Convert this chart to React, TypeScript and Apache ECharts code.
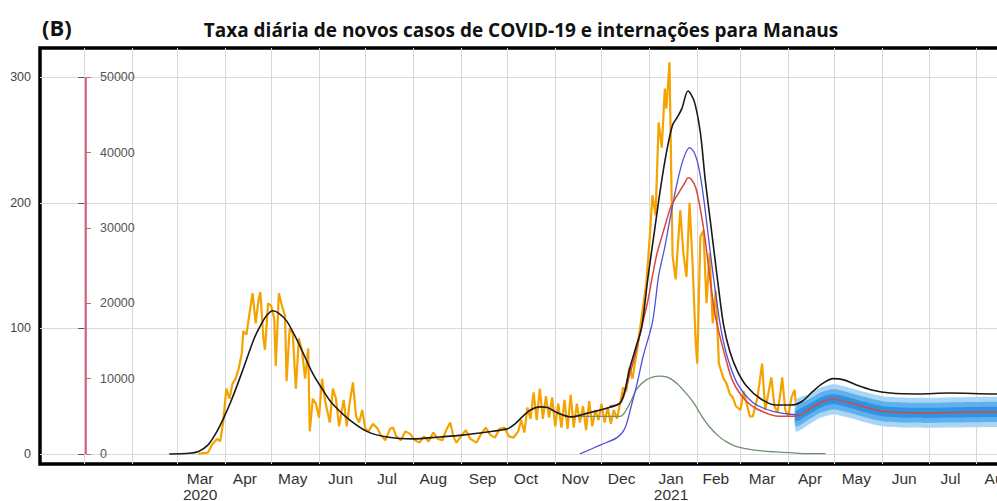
import React, { useEffect, useRef } from "react";
import * as echarts from "echarts";

// x values are days since 2020-01-01
const titleText = "Taxa diária de novos casos de COVID-19 e internações para Manaus";
const panelLabel = "(B)";

const monthStartDays = [0, 31, 60, 91, 121, 152, 182, 213, 244, 274, 305, 335, 366, 397, 425, 456, 486, 517, 547, 578, 609];
const monthLabelDays = [75, 104, 135, 166, 196, 226, 258, 286, 318, 348, 380, 409, 439, 470, 500, 531, 561, 592];
const monthLabels = ["Mar\n2020", "Apr", "May", "Jun", "Jul", "Aug", "Sep", "Oct", "Nov", "Dec", "Jan\n2021", "Feb", "Mar", "Apr", "May", "Jun", "Jul", "Aug"];
const leftTicks = [0, 100, 200, 300];
const rightTicks = [0, 10000, 20000, 30000, 40000, 50000];
const secondAxisLine = [[1, 0], [1, 50000]];

const dailyCases = [
  [74, 0], [80, 1], [83, 8], [86, 12], [88, 10], [90, 26], [92, 52], [94, 44], [96, 56], [98, 60], [100, 68], [102, 80], [103, 98], [105, 95], [107, 112], [109, 128], [111, 104], [113, 124], [114, 129], [116, 92], [117, 83], [119, 120], [121, 118], [123, 108], [124, 70], [126, 128], [128, 118], [130, 110], [131, 58], [133, 100], [135, 96], [137, 52], [139, 92], [141, 82], [143, 60], [145, 84], [146, 18], [148, 44], [150, 40], [152, 29], [154, 60], [156, 42], [159, 25], [161, 52], [163, 44], [165, 22], [168, 43], [170, 22], [172, 42], [174, 57], [176, 30], [178, 25], [180, 35], [182, 20], [184, 18], [187, 24], [190, 20], [192, 15], [195, 11], [198, 20], [200, 21], [202, 14], [205, 11], [208, 18], [211, 16], [214, 11], [217, 9], [220, 14], [223, 10], [226, 17], [229, 12], [232, 11], [234, 18], [237, 25], [239, 14], [241, 9], [244, 14], [247, 19], [250, 12], [254, 9], [257, 16], [260, 21], [263, 15], [266, 13], [269, 20], [272, 21], [275, 14], [278, 13], [281, 18], [283, 27], [285, 17], [287, 37], [289, 28], [291, 49], [293, 27], [295, 52], [297, 28], [299, 46], [301, 29], [303, 45], [305, 22], [307, 40], [309, 21], [311, 43], [313, 20], [315, 47], [317, 21], [319, 40], [321, 25], [323, 38], [325, 19], [327, 42], [329, 22], [331, 35], [333, 27], [335, 40], [337, 25], [339, 37], [341, 24], [343, 35], [345, 28], [347, 40], [349, 53], [351, 50], [353, 69], [355, 60], [358, 83], [361, 109], [364, 136], [366, 169], [368, 206], [370, 190], [372, 264], [374, 244], [376, 291], [377, 275], [379, 312], [381, 158], [383, 139], [386, 194], [388, 160], [390, 141], [392, 200], [394, 150], [396, 88], [397, 72], [399, 173], [401, 178], [403, 120], [405, 160], [407, 104], [409, 130], [411, 72], [414, 60], [416, 56], [418, 48], [420, 45], [422, 38], [425, 35], [427, 50], [429, 40], [431, 30], [433, 30], [436, 45], [439, 72], [441, 35], [443, 48], [445, 61], [447, 38], [449, 33], [451, 50], [452, 61], [454, 35], [456, 30], [458, 45], [460, 51], [462, 27], [463, 40]
];

const blackModel = [
  [55, 0], [68, 0.5], [74, 2], [80, 7], [85, 16], [90, 28], [95, 42], [100, 58], [105, 75], [110, 92], [114, 102], [118, 110], [122, 114], [126, 112], [131, 106], [136, 95], [140, 85], [148, 64], [155, 50], [160, 41], [170, 29], [183, 18], [196, 13.5], [213, 12], [230, 13.5], [245, 15], [261, 17.5], [274, 20], [279, 24], [284, 30], [289, 35], [295, 37.5], [300, 37], [306, 33], [315, 29.5], [326, 32.5], [340, 37], [347, 40.5], [350, 50], [353, 67], [357, 84], [361, 101], [365, 140], [369, 175], [373, 210], [377, 240], [381, 262], [384, 268], [387, 275], [391, 289], [395, 281], [399, 256], [402, 220], [405, 190], [408, 160], [411, 130], [414, 103], [418, 82], [423, 66], [429, 54], [438, 44], [448, 39], [458, 39], [465, 42], [472, 50], [478, 56], [485, 60], [492, 59], [500, 55], [510, 51], [522, 48.5], [540, 47.8], [560, 48.5], [590, 47.8], [615, 48]
];

const redModel = [
  [340, 38], [347, 40.5], [350, 48], [353, 62], [357, 80], [361, 101], [365, 122], [368, 142], [371, 160], [375, 177], [380, 197], [385, 208], [389, 216], [391, 220], [393, 219], [396, 212], [399, 195], [402, 172], [405, 142], [408, 115], [411, 97], [415, 78], [420, 58], [428, 43], [437, 35], [450, 30], [461, 30], [470, 36], [477, 41], [485, 43.5], [495, 41], [505, 37.5], [517, 34], [530, 33], [545, 32.7], [560, 33], [575, 33.3], [590, 33.5], [615, 33.5]
];

const blueModel = [
  [321, 0], [334, 7], [345, 13], [350, 20], [354, 37], [358, 56], [362, 78], [368, 105], [372, 142], [376, 165], [379, 185], [384, 216], [388, 235], [392, 244], [395, 240], [398, 228], [401, 205], [404, 175], [407, 145], [410, 118], [413, 95], [417, 75], [423, 56], [433, 41], [446, 34], [463, 31]
];

const greenModel = [
  [300, 37], [306, 33], [315, 30], [330, 30], [347, 30], [350, 33], [354, 42], [358, 52], [364, 59], [372, 62], [378, 61], [384, 56], [390, 48], [395, 40], [400, 30], [405, 21.5], [411, 14], [416, 9.6], [422, 6], [429, 4], [440, 2.2], [448, 1.6], [463, 0.5], [480, 0.2]
];

const forecastDays = [461, 470, 477, 485, 495, 505, 517, 530, 545, 560, 575, 590, 615];
const band95Lo = [18, 24, 29, 31.5, 29, 25.5, 22, 21, 20.7, 21, 21.3, 21.5, 21.5];
const band95Hi = [43, 48, 53, 55.5, 53, 49.5, 46, 45, 44.7, 45, 45.3, 45.5, 45.5];
const band80Lo = [22, 28, 33, 35.5, 33, 29.5, 26, 25, 24.7, 25, 25.3, 25.5, 25.5];
const band80Hi = [38, 44, 49, 51.5, 49, 45.5, 42, 41, 40.7, 41, 41.3, 41.5, 41.5];
const band50Lo = [26, 32, 37, 39.5, 37, 33.5, 30, 29, 28.7, 29, 29.3, 29.5, 29.5];
const band50Hi = [34, 40, 45, 47.5, 45, 41.5, 38, 37, 36.7, 37, 37.3, 37.5, 37.5];

export default function App() {
  const ref = useRef<HTMLDivElement>(null);
  useEffect(() => {
    if (!ref.current) return;
    const chart = echarts.init(ref.current, null, { renderer: "svg" });

    const bandSeries = (lo: number[], hi: number[], color: string, z: number) => ({
      type: "custom",
      silent: true,
      z,
      data: forecastDays.map((d, i) => [d, lo[i], hi[i]]),
      encode: { x: 0, y: [1, 2] },
      renderItem: (params: any, api: any) => {
        if (params.dataIndex !== 0) return null;
        const upper = forecastDays.map((d, i) => api.coord([d, hi[i]]));
        const lower = forecastDays.map((d, i) => api.coord([d, lo[i]])).reverse();
        return {
          type: "polygon",
          shape: { points: upper.concat(lower), smooth: 0.25 },
          style: { fill: color },
        };
      },
    });

    const lineSeries = (data: number[][], color: string, width: number, z: number, smooth: number | boolean) => ({
      type: "line", symbol: "none", silent: true, data, smooth, z,
      lineStyle: { color, width }, itemStyle: { color },
    });

    const labelMap: Record<string, string> = {};
    monthLabelDays.forEach((d, i) => { labelMap[String(d)] = monthLabels[i]; });

    const yMin = -8;
    const yMax = 323.3;
    const ratio = 50000 / 300;

    chart.setOption({
      animation: false,
      backgroundColor: "#ffffff",
      grid: {
        left: 40, top: 48, width: 990, height: 416,
        show: true, borderColor: "#000", borderWidth: 3.5,
        containLabel: false, outerBoundsMode: "none",
      },
      graphic: [
        {
          type: "text",
          style: { text: titleText, x: 521, y: 30, textAlign: "center", textVerticalAlign: "middle", font: 'bold 19px "Open Sans"', fill: "#111" },
        },
        {
          type: "text",
          style: { text: panelLabel, x: 42, y: 27, textAlign: "left", textVerticalAlign: "middle", font: 'bold 22px "Open Sans"', fill: "#111" },
        },
      ],
      xAxis: {
        type: "value", min: -28.7, max: 612.5,
        axisLine: { show: false },
        axisTick: { show: false, customValues: monthStartDays },
        splitLine: { show: true, lineStyle: { color: "#d9d9d9", width: 1 } },
        axisLabel: {
          customValues: monthLabelDays,
          formatter: (v: number) => labelMap[String(v)] ?? "",
          fontFamily: "Liberation Sans", fontSize: 15.5, color: "#333", lineHeight: 16, margin: 6,
        },
      },
      yAxis: [
        {
          type: "value", min: yMin, max: yMax,
          axisLine: { show: false },
          axisTick: { show: true, length: 6, customValues: leftTicks, lineStyle: { color: "#555" } },
          axisLabel: { customValues: leftTicks, formatter: (v: number) => String(v), fontFamily: "Liberation Sans", fontSize: 12.5, color: "#444", margin: 9 },
          splitLine: { show: true, lineStyle: { color: "#d9d9d9", width: 1 } },
        },
        {
          type: "value", position: "left", offset: -46, min: yMin * ratio, max: yMax * ratio,
          axisLine: { show: false },
          axisTick: { show: true, inside: true, length: 5, customValues: rightTicks, lineStyle: { color: "#d9607a" } },
          axisLabel: { inside: true, customValues: rightTicks, formatter: (v: number) => String(v), fontFamily: "Liberation Sans", fontSize: 12.5, color: "#555", margin: 14 },
          splitLine: { show: false },
        },
      ],
      series: [
        { ...lineSeries(secondAxisLine, "#d9607a", 2, 2, false), yAxisIndex: 1 },
        lineSeries(dailyCases, "#f5a300", 2.2, 4, false),
        bandSeries(band95Lo, band95Hi, "#a9d6f5", 5),
        bandSeries(band80Lo, band80Hi, "#5fb0ec", 5),
        bandSeries(band50Lo, band50Hi, "#2f93e2", 5),
        lineSeries(greenModel, "#6f8f6f", 1.3, 6, 0.3),
        lineSeries(blueModel, "#5050d8", 1.3, 6, 0.3),
        lineSeries(redModel, "#d9473f", 1.5, 7, 0.3),
        lineSeries(blackModel, "#1a1a1a", 1.6, 8, 0.3),
      ],
    });
    return () => chart.dispose();
  }, []);
  return (
    <div
      ref={ref}
      style={{ position: "fixed", left: 0, top: 0, width: 997, height: 501, background: "#fff" }}
    />
  );
}
